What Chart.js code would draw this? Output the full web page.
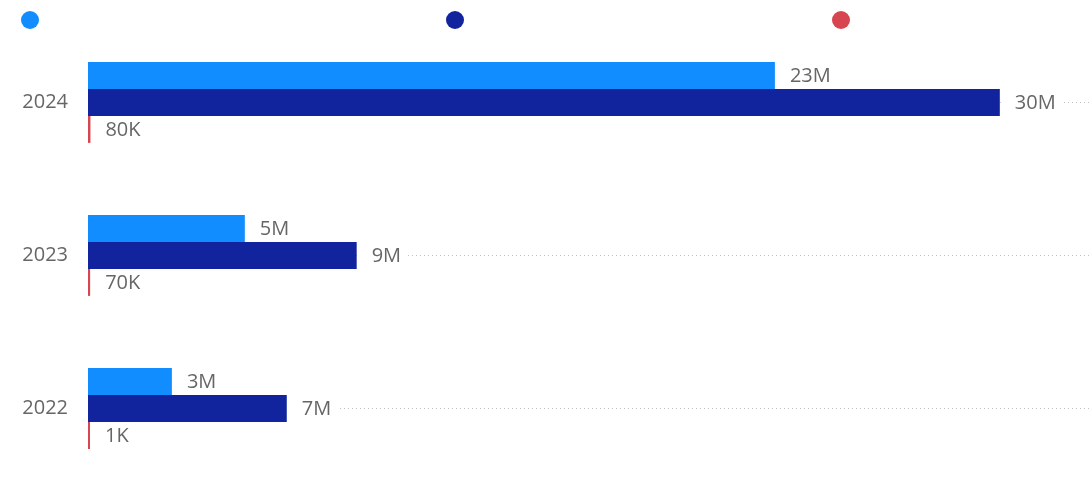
<!DOCTYPE html>
<html><head><meta charset="utf-8">
<script src="https://cdn.jsdelivr.net/npm/chart.js@4"></script>
<style>html,body{margin:0;padding:0;background:#fff}#wrap{width:1091px;height:485px;position:relative}</style>
</head><body><div id="wrap"><canvas id="c"></canvas></div>
<script>
const categories = ['2024', '2023', '2022'];
const seriesA = [22.6e6, 5.16e6, 2.76e6];
const seriesB = [30.0e6, 8.84e6, 6.54e6];
const seriesC = [80e3, 70e3, 1e3];
const seriesColors = ['#118DFF', '#12239E', '#D64550'];

function fmt(v){
  if (v >= 1e6) return Math.round(v/1e6) + 'M';
  if (v >= 1e3) return Math.round(v/1e3) + 'K';
  return String(v);
}

const legendDots = {
  id: 'legendDots',
  afterDraw(chart){
    const ctx = chart.ctx;
    const xs = [30, 455, 841];
    ctx.save();
    chart.data.datasets.forEach((ds, i) => {
      ctx.beginPath();
      ctx.fillStyle = ds.backgroundColor;
      ctx.arc(xs[i], 20, 9, 0, Math.PI*2);
      ctx.fill();
    });
    ctx.restore();
  }
};

const valueLabels = {
  id: 'valueLabels',
  afterDatasetsDraw(chart){
    const ctx = chart.ctx;
    ctx.save();
    ctx.font = '20px "Open Sans", sans-serif';
    ctx.textBaseline = 'middle';
    ctx.textAlign = 'left';
    chart.data.datasets.forEach((ds, di) => {
      const meta = chart.getDatasetMeta(di);
      meta.data.forEach((el, i) => {
        const txt = fmt(ds.data[i]);
        const tx = el.x + 15;
        const w = ctx.measureText(txt).width;
        ctx.fillStyle = '#fff';
        ctx.fillRect(el.x + 1, el.y - 12, (tx - el.x) + w + 6, 24);
        ctx.fillStyle = '#666';
        ctx.fillText(txt, tx, el.y + 1);
      });
    });
    ctx.restore();
  }
};

new Chart(document.getElementById('c'), {
  type: 'bar',
  data: {
    labels: categories,
    datasets: [
      { label: 'A', data: seriesA, backgroundColor: seriesColors[0] },
      { label: 'B', data: seriesB, backgroundColor: seriesColors[1] },
      { label: 'C', data: seriesC, backgroundColor: seriesColors[2], minBarLength: 2 }
    ]
  },
  options: {
    indexAxis: 'y',
    responsive: true,
    maintainAspectRatio: false,
    animation: false,
    layout: { padding: { top: 26, right: 0, bottom: -2, left: 0 } },
    datasets: { bar: { barPercentage: 1, categoryPercentage: 0.528, borderWidth: 0 } },
    plugins: { legend: { display: false }, tooltip: { enabled: false } },
    scales: {
      x: { display: false, min: 0, max: 33e6 },
      y: {
        afterFit(scale){ scale.width = 88; scale.paddingTop = 0; scale.paddingBottom = 0; },
        grid: { offset: false, drawTicks: false, color: '#c0c0c0', lineWidth: 1 },
        border: { display: false, dash: [1, 3] },
        ticks: { padding: 20, color: '#666', font: { family: '"Open Sans", sans-serif', size: 20 } }
      }
    }
  },
  plugins: [legendDots, valueLabels]
});
</script></body></html>
